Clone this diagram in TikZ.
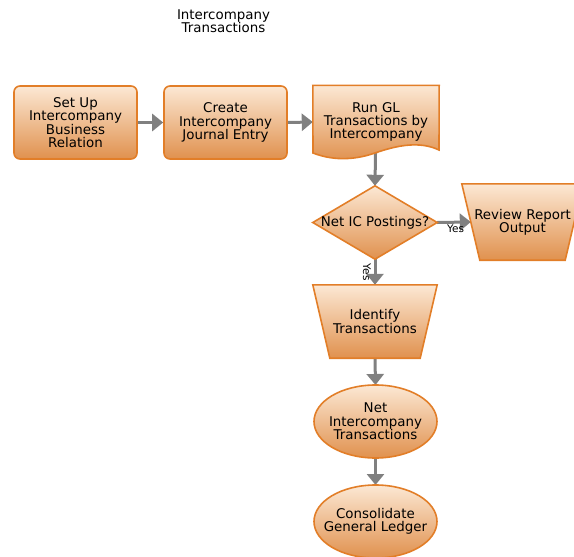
\documentclass[tikz,border=0pt]{standalone}
\usepackage{fontspec}
\setmainfont{DejaVu Sans}
\usepackage{xcolor}
\usetikzlibrary{shapes.geometric, arrows.meta, positioning}
\definecolor{BoxTop}{RGB}{252,232,212}
\definecolor{BoxBottom}{RGB}{224,145,78}
\definecolor{BoxEdge}{RGB}{226,126,40}
\definecolor{FlowGray}{RGB}{128,128,128}
\pgfdeclarelayer{arrowlayer}
\pgfdeclarelayer{shapelayer}
\pgfsetlayers{arrowlayer,shapelayer,main}

\tikzset{
  stepfill/.style={top color=BoxTop, bottom color=BoxBottom, draw=BoxEdge, line width=1.6pt},
  procbox/.style={stepfill, rounded corners=6pt, minimum width=123pt, minimum height=73pt,
                  align=center, inner sep=0pt},
  txtonly/.style={minimum width=123pt, minimum height=73pt, align=center, inner sep=0pt},
  flow/.style={draw=FlowGray, line width=3pt, -{Triangle[width=17pt,length=11pt]}},
  yeslbl/.style={font=\fontsize{10.5}{11}\selectfont}
}

\begin{document}
\begin{tikzpicture}[x=1pt, y=-1pt, font=\fontsize{13.4}{13.3}\selectfont]
\useasboundingbox (0,0) rectangle (574,557);

% ---- Title ----
\node[align=center] (title) at (223.5,21.5) {Intercompany\\Transactions};

% ---- Top row ----
\node[procbox] (setup)  at (75.5,122.5)  {Set Up\\Intercompany\\Business\\Relation};
\node[procbox] (create) at (225.5,122.5) {Create\\Intercompany\\Journal Entry};
\node[txtonly, minimum width=126pt] (rungl) at (376,122) {Run GL\\Transactions by\\Intercompany};

% ---- Decision and branches ----
\node[txtonly, minimum width=124pt] (netic) at (375,222.5) {Net IC Postings?};
\node[txtonly, minimum width=121pt, minimum height=76pt] (review) at (522.5,222) {Review Report\\Output};
\node[txtonly, minimum width=124pt] (identify) at (375,321.5) {Identify\\Transactions};

% ---- Bottom ----
\node[txtonly] (netting) at (375.5,421.5) {Net\\Intercompany\\Transactions};
\node[txtonly] (consol)  at (375.5,521.5) {Consolidate\\General Ledger};

% shapes drawn behind the texts
\begin{pgfonlayer}{shapelayer}
  % document shape, wavy bottom
  \path[stepfill] (rungl.north west) -- (rungl.north east) -- (439,150)
    .. controls (420,141) and (398,145) .. (375,153)
    .. controls (352,161) and (331,160) .. (313,153) -- cycle;
  \path[stepfill] (netic.north) -- (netic.east) -- (netic.south) -- (netic.west) -- cycle;
  \path[stepfill] (review.north west) -- (review.north east)
    -- ([xshift=-18pt]review.south east) -- ([xshift=18pt]review.south west) -- cycle;
  \path[stepfill] (identify.north west) -- (identify.north east)
    -- ([xshift=-17pt]identify.south east) -- ([xshift=17pt]identify.south west) -- cycle;
  \path[stepfill] (netting) ellipse [x radius=61.5pt, y radius=36.5pt];
  \path[stepfill] (consol) ellipse [x radius=61.5pt, y radius=36.5pt];
\end{pgfonlayer}

% ---- Connectors ----
\begin{pgfonlayer}{arrowlayer}
  \draw[flow] (setup.east) -- (create.west);
  \draw[flow] (create.east) -- (rungl.west);
  \draw[flow] (rungl.center) -- (netic.north);
  \draw[flow] (netic.east) -- ([xshift=9pt]review.west);
  \draw[flow] (netic.south) -- (identify.north);
  \draw[flow] (identify.south) -- ([yshift=36.5pt]netting.center);
  \draw[flow] ([yshift=-36.5pt]netting.center) -- ([yshift=36.5pt]consol.center);
\end{pgfonlayer}

% branch labels
\path (netic.east) -- node[yeslbl, below=-1pt, pos=0.55] {Yes} ([xshift=9pt]review.west);
\path (netic.south) -- node[yeslbl, pos=0.5, xshift=-8pt, rotate=-90] {Yes} (identify.north);

\end{tikzpicture}
\end{document}
